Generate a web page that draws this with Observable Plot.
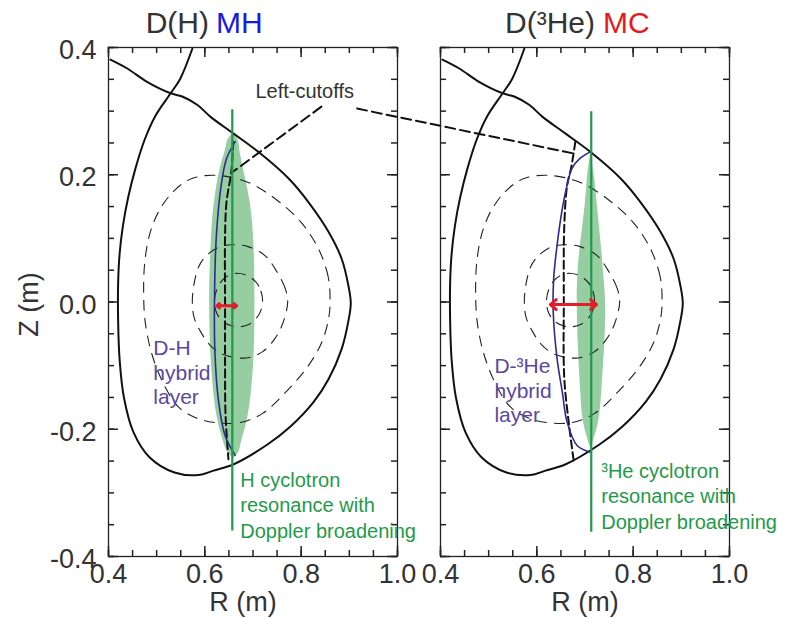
<!DOCTYPE html>
<html>
<head>
<meta charset="utf-8">
<script src="https://cdn.jsdelivr.net/npm/d3@7"></script>
<script src="https://cdn.jsdelivr.net/npm/@observablehq/plot@0.6"></script>
<style>
  body { margin: 0; background: #fff; }
  #wrap { position: relative; width: 787px; height: 618px; background: #fff; }
  #wrap > svg { position: absolute; left: 0; top: 0; }
</style>
</head>
<body>
<div id="wrap"></div>
<script>
// ---------- tick labels ----------
const xTickLabels = [0.4, 0.6, 0.8, 1.0];
const yTickLabels = [-0.4, -0.2, 0.0, 0.2, 0.4];
const xMinorTicks = [0.4,0.45,0.5,0.55,0.6,0.65,0.7,0.75,0.8,0.85,0.9,0.95,1.0];
const yMinorTicks = [-0.4,-0.35,-0.3,-0.25,-0.2,-0.15,-0.1,-0.05,0,0.05,0.1,0.15,0.2,0.25,0.3,0.35,0.4];

// ---------- plasma boundary (shared by both panels), R and Z in m ----------
const boundaryR = [0.404,0.439,0.480,0.529,0.553,0.584,0.612,0.659,0.711,0.774,0.815,0.857,0.884,0.898,0.903,0.898,0.884,0.857,0.826,0.776,0.730,0.660,0.618,0.587,0.537,0.485,0.452,0.432,0.423,0.420,0.420,0.423,0.430,0.441,0.456,0.475,0.497,0.529,0.549,0.574];
const boundaryZ = [0.381,0.367,0.346,0.328,0.323,0.310,0.291,0.265,0.236,0.194,0.157,0.110,0.068,0.026,-0.002,-0.030,-0.074,-0.121,-0.157,-0.197,-0.224,-0.255,-0.265,-0.272,-0.268,-0.244,-0.205,-0.150,-0.090,-0.030,0.030,0.075,0.120,0.165,0.210,0.255,0.292,0.328,0.351,0.398];

// ---------- flux surfaces (dashed) ----------
const fluxOuterR = [0.860,0.856,0.835,0.800,0.750,0.690,0.625,0.573,0.535,0.504,0.485,0.475,0.473,0.476,0.489,0.512,0.545,0.585,0.628,0.676,0.720,0.770,0.815,0.843,0.857];
const fluxOuterZ = [0.000,0.040,0.085,0.125,0.160,0.188,0.199,0.194,0.174,0.142,0.105,0.060,0.015,-0.030,-0.079,-0.125,-0.165,-0.183,-0.190,-0.189,-0.175,-0.140,-0.100,-0.063,-0.026];
const fluxMiddleR = [0.772,0.767,0.746,0.725,0.690,0.658,0.628,0.601,0.587,0.578,0.574,0.578,0.590,0.611,0.640,0.685,0.720,0.745,0.762];
const fluxMiddleZ = [0.000,0.021,0.052,0.073,0.087,0.090,0.086,0.071,0.055,0.030,0.000,-0.025,-0.045,-0.068,-0.083,-0.088,-0.078,-0.058,-0.033];
const fluxInnerR = [0.720,0.712,0.692,0.665,0.640,0.625,0.620,0.625,0.640,0.665,0.692,0.712];
const fluxInnerZ = [0.000,0.025,0.040,0.045,0.037,0.020,0.000,-0.018,-0.032,-0.039,-0.035,-0.020];

// ---------- panel 1 : D(H) MH ----------
const cutoffHR = [0.659,0.655,0.645,0.642,0.642,0.642,0.643,0.649];
const cutoffHZ = [0.252,0.205,0.157,0.105,0.000,-0.100,-0.178,-0.247];
const hybridHR = [0.663,0.645,0.635,0.624,0.620,0.621,0.628,0.642,0.663];
const hybridHZ = [0.252,0.225,0.189,0.105,0.000,-0.080,-0.153,-0.210,-0.241];
const dopplerHZ = [0.265,0.255,0.236,0.210,0.157,0.105,0.000,-0.100,-0.178,-0.220,-0.237,-0.246];
const dopplerHLeft = [0.659,0.648,0.642,0.632,0.620,0.614,0.610,0.614,0.625,0.639,0.648,0.660];
const dopplerHRight = [0.659,0.669,0.673,0.680,0.694,0.701,0.704,0.701,0.690,0.676,0.670,0.660];
const leaderHR = [0.842, 0.659];
const leaderHZ = [0.307, 0.205];

// ---------- panel 2 : D(3He) MC ----------
const cutoffHeR = [0.680,0.671,0.663,0.657,0.656,0.657,0.667,0.677];
const cutoffHeZ = [0.252,0.210,0.184,0.120,0.000,-0.120,-0.194,-0.252];
const hybridHeR = [0.711,0.690,0.673,0.663,0.653,0.642,0.635,0.634,0.642,0.653,0.663,0.684,0.711];
const hybridHeZ = [0.236,0.226,0.210,0.184,0.147,0.089,0.037,-0.015,-0.089,-0.142,-0.189,-0.226,-0.236];
const dopplerHeZ = [0.236,0.194,0.157,0.052,-0.011,-0.126,-0.189,-0.231];
const dopplerHeLeft = [0.712,0.705,0.701,0.686,0.684,0.690,0.697,0.712];
const dopplerHeRight = [0.712,0.720,0.725,0.738,0.743,0.736,0.728,0.712];
const leaderHeR = [0.227, 0.673];
const leaderHeZ = [0.304, 0.234];

// ---------- per-panel scalars: [panel1, panel2] ----------
const resonanceR = [0.657, 0.713];
const resonanceTop = [0.302, 0.299];
const resonanceBottom = [-0.360, -0.362];
const arrowFrom = [0.625, 0.628];
const arrowTo = [0.666, 0.724];
const arrowZ = [-0.006, -0.004];
const titleLeft = ["D(H)", "D(\u00b3He)"];
const titleRight = ["MH", "MC"];
const hybridLabel = ["D-H\nhybrid\nlayer", "D-\u00b3He\nhybrid\nlayer"];
const resonanceLabel = ["H cyclotron\nresonance with\nDoppler broadening", "\u00b3He cyclotron\nresonance with\nDoppler broadening"];

// ---------- layout / style ----------
const FONT = "'Liberation Sans', Arial, Helvetica, sans-serif";
const TOTAL_W = 787, TOTAL_H = 618, FW = 289, FH = 509, TOP = 47;
const GREEN = "#1f9a4a", BAND = "#96cea2", HYB = "#2f2a8f", HYBTXT = "#5a48a0", RED = "#e21d2b", INK = "#333", AX = "#222";
const X0 = 0.4, X1 = 1.0, Y0 = -0.4, Y1 = 0.4;
const tx = n => n * (X1 - X0) / FW;   // tick length (px) in R units
const ty = n => n * (Y1 - Y0) / FH;   // tick length (px) in Z units
const MINOR = 6, MAJOR = 10;

const pts = (R, Z) => R.map((r, i) => ({R: r, Z: Z[i]}));
const band = (Z, L, Rr) => Z.map((z, i) => ({Z: z, L: L[i], R: Rr[i]}));

function panel(k, opt) {
  const left = opt.left;
  const mid = (arrowFrom[k] + arrowTo[k]) / 2;
  const tick = {stroke: AX, strokeWidth: 1.5};
  const marks = [
    Plot.areaX(band(opt.bandZ, opt.bandL, opt.bandR), {y: "Z", x1: "L", x2: "R", curve: "catmull-rom", fill: BAND}),
    Plot.line(pts(fluxOuterR, fluxOuterZ), {x: "R", y: "Z", curve: "catmull-rom-closed", stroke: "#222", strokeWidth: 1.1, strokeDasharray: "10,8"}),
    Plot.line(pts(fluxMiddleR, fluxMiddleZ), {x: "R", y: "Z", curve: "catmull-rom-closed", stroke: "#222", strokeWidth: 1.1, strokeDasharray: "10,8"}),
    Plot.line(pts(fluxInnerR, fluxInnerZ), {x: "R", y: "Z", curve: "catmull-rom-closed", stroke: "#222", strokeWidth: 1.1, strokeDasharray: "10,8"}),
    Plot.line(pts(boundaryR, boundaryZ), {x: "R", y: "Z", curve: "catmull-rom", stroke: "#111", strokeWidth: 2}),
    Plot.line(pts(opt.cutR, opt.cutZ), {x: "R", y: "Z", curve: "catmull-rom", stroke: "#111", strokeWidth: 2, strokeDasharray: "8,4"}),
    Plot.line(pts(opt.leadR, opt.leadZ), {x: "R", y: "Z", stroke: "#111", strokeWidth: 2, strokeDasharray: "10,5"}),
    Plot.line(pts(opt.hybR, opt.hybZ), {x: "R", y: "Z", curve: "catmull-rom", stroke: HYB, strokeWidth: 1.6}),
    Plot.ruleX([k], {x: i => resonanceR[i], y1: i => resonanceTop[i], y2: i => resonanceBottom[i], stroke: GREEN, strokeWidth: 2.2}),
    Plot.arrow([arrowFrom[k], arrowTo[k]], {x1: () => mid, x2: d => d, y1: () => arrowZ[k], y2: () => arrowZ[k], stroke: RED, strokeWidth: 3, headLength: 8, headAngle: 80}),
    // frame
    Plot.frame({stroke: AX, strokeWidth: 1.3}),
    // inward ticks on all four sides
    Plot.ruleX(xMinorTicks, {x: d => d, y1: Y0, y2: Y0 + ty(MINOR), ...tick}),
    Plot.ruleX(xMinorTicks, {x: d => d, y1: Y1, y2: Y1 - ty(MINOR), ...tick}),
    Plot.ruleX(xTickLabels, {x: d => d, y1: Y0, y2: Y0 + ty(MAJOR), ...tick}),
    Plot.ruleX(xTickLabels, {x: d => d, y1: Y1, y2: Y1 - ty(MAJOR), ...tick}),
    Plot.ruleY(yMinorTicks, {y: d => d, x1: X0, x2: X0 + tx(MINOR), ...tick}),
    Plot.ruleY(yMinorTicks, {y: d => d, x1: X1, x2: X1 - tx(MINOR), ...tick}),
    Plot.ruleY(yTickLabels, {y: d => d, x1: X0, x2: X0 + tx(MAJOR), ...tick}),
    Plot.ruleY(yTickLabels, {y: d => d, x1: X1, x2: X1 - tx(MAJOR), ...tick}),
    // x tick labels and axis label
    Plot.text(xTickLabels, {x: d => d, text: d => d.toFixed(1), frameAnchor: "bottom", textAnchor: "middle", lineAnchor: "top", dy: 7, fontSize: 27, fill: INK}),
    Plot.text(["R (m)"], {text: d => d, frameAnchor: "bottom", textAnchor: "middle", lineAnchor: "bottom", dy: 54, dx: opt.rdx, fontSize: 27, fill: INK}),
    // titles
    Plot.text([titleLeft[k]], {text: d => d, frameAnchor: "top", textAnchor: "end", lineAnchor: "bottom", dx: opt.t1dx, dy: -15, fontSize: 30, fill: INK}),
    Plot.text([titleRight[k]], {text: d => d, frameAnchor: "top", textAnchor: "start", lineAnchor: "bottom", dx: opt.t2dx, dy: -15, fontSize: 30, fill: opt.titleColor}),
    // annotations
    Plot.text([hybridLabel[k]], {text: d => d, x: () => opt.hybTextR, y: () => opt.hybTextZ, textAnchor: "start", lineAnchor: "bottom", lineHeight: 1.17, fontSize: 21, fill: HYBTXT}),
    Plot.text([resonanceLabel[k]], {text: d => d, x: () => resonanceR[k], frameAnchor: "bottom", textAnchor: "start", lineAnchor: "bottom", dx: opt.resdx, dy: opt.resdy, lineHeight: 1.27, fontSize: 20, fill: GREEN})
  ];
  if (opt.yLabels) {
    marks.push(
      Plot.text(yTickLabels, {y: d => d, text: d => d.toFixed(1), frameAnchor: "left", textAnchor: "end", lineAnchor: "middle", dx: -12, dy: 3, fontSize: 27, fill: INK}),
      Plot.text(["Z (m)"], {text: d => d, x: () => X0, y: () => -0.004, textAnchor: "middle", rotate: -90, lineAnchor: "middle", dx: -79, fontSize: 27, fill: INK}),
      Plot.text(["Left-cutoffs"], {text: d => d, x: () => 0.705, y: () => 0.320, textAnchor: "start", lineAnchor: "bottom", fontSize: 20, fill: INK})
    );
  }
  return Plot.plot({
    width: TOTAL_W, height: TOTAL_H,
    marginLeft: left, marginRight: TOTAL_W - left - FW,
    marginTop: TOP, marginBottom: TOTAL_H - TOP - FH,
    x: {domain: [X0, X1], axis: null},
    y: {domain: [Y0, Y1], axis: null},
    style: {background: "transparent", fontFamily: FONT},
    marks
  });
}

const wrap = document.getElementById("wrap");
wrap.appendChild(panel(0, {
  left: 108, cutR: cutoffHR, cutZ: cutoffHZ, hybR: hybridHR, hybZ: hybridHZ,
  bandZ: dopplerHZ, bandL: dopplerHLeft, bandR: dopplerHRight,
  leadR: leaderHR, leadZ: leaderHZ,
  t1dx: -44, t2dx: -37, titleColor: "#1a1ae0", rdx: -10,
  hybTextR: 0.493, hybTextZ: -0.161, resdx: 8, resdy: -19, yLabels: true
}));
wrap.appendChild(panel(1, {
  left: 440, cutR: cutoffHeR, cutZ: cutoffHeZ, hybR: hybridHeR, hybZ: hybridHeZ,
  bandZ: dopplerHeZ, bandL: dopplerHeLeft, bandR: dopplerHeRight,
  leadR: leaderHeR, leadZ: leaderHeZ,
  t1dx: 10, t2dx: 18, titleColor: "#e8191e", rdx: 0,
  hybTextR: 0.512, hybTextZ: -0.189, resdx: 10, resdy: -28, yLabels: false
}));
</script>
</body>
</html>
